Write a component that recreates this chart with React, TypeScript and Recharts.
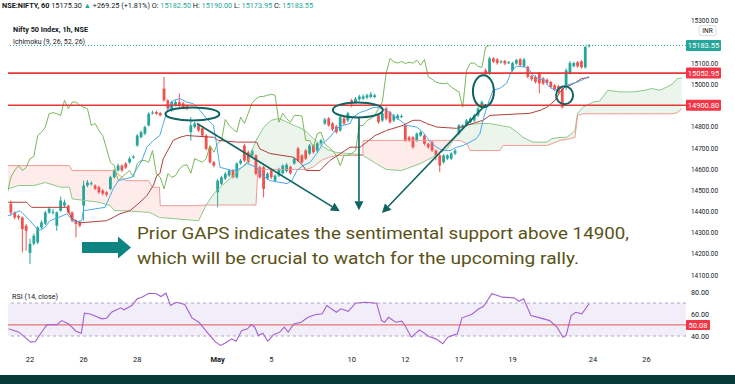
import React from 'react';
import { ComposedChart, Bar, Line, Area, XAxis, YAxis, ReferenceLine, ReferenceDot, ReferenceArea } from 'recharts';

// hourly candles, bar index -5 .. 146 (0 = first bar of 22 Apr)
const FIRST_BAR = -5;
const OPENS = [
  14436, 14395, 14379, 14371, 14332,
  14204, 14247, 14253, 14324, 14342, 14394, 14395,
  14332, 14403, 14427, 14427, 14395, 14356, 14348,
  14427, 14522, 14531, 14522, 14514, 14498, 14490,
  14506, 14561, 14593, 14616, 14626, 14631, 14654,
  14711, 14750, 14767, 14806, 14864, 14869, 14864,
  14980, 14924, 14877, 14901, 14916, 14910, 14896,
  14774, 14798, 14806, 14792, 14758, 14703, 14632,
  14490, 14530, 14555, 14569, 14593, 14561, 14626,
  14711, 14679, 14664, 14664, 14608, 14608, 14555,
  14593, 14545, 14569, 14580, 14590, 14610, 14626,
  14697, 14664, 14687, 14673, 14711, 14687, 14721,
  14815, 14839, 14815, 14801, 14782, 14839, 14829,
  14924, 14916, 14929, 14932, 14937, 14940, 14940,
  14853, 14829, 14886, 14869, 14829, 14838, 14848,
  14806, 14750, 14750, 14735, 14758, 14758, 14719,
  14727, 14687, 14664, 14632, 14649, 14649, 14673,
  14767, 14792, 14806, 14821, 14829, 14853, 14901,
  15066, 15051, 15122, 15118, 15106, 15110, 15103,
  15066, 15098, 15118, 15085, 15082, 15038, 15035,
  15052, 15028, 15022, 15011, 14995, 14991, 14980,
  14995, 15052, 15085, 15104, 15109, 15080, 15182.5,
];
const HIGHS = [
  14451, 14400, 14385, 14376, 14340,
  14271, 14295, 14330, 14358, 14402, 14422, 14412,
  14400, 14470, 14455, 14432, 14400, 14362, 14356,
  14545, 14548, 14542, 14528, 14520, 14505, 14495,
  14568, 14600, 14625, 14622, 14632, 14658, 14665,
  14765, 14782, 14805, 14868, 14875, 14876, 14870,
  15035, 14930, 14922, 14925, 14957, 14918, 14902,
  14845, 14822, 14812, 14798, 14764, 14710, 14638,
  14552, 14568, 14585, 14600, 14598, 14632, 14648,
  14720, 14688, 14695, 14670, 14615, 14615, 14585,
  14598, 14575, 14606, 14622, 14628, 14616, 14656,
  14705, 14670, 14695, 14718, 14717, 14728, 14742,
  14842, 14846, 14822, 14808, 14852, 14846, 14870,
  14932, 14940, 14950, 14952, 14956, 14964, 14955,
  14860, 14870, 14895, 14875, 14860, 14860, 14858,
  14812, 14756, 14756, 14773, 14782, 14765, 14725,
  14733, 14693, 14670, 14670, 14670, 14680, 14694,
  14812, 14812, 14836, 14845, 14860, 14892, 14924,
  15075, 15130, 15128, 15124, 15115, 15116, 15110,
  15106, 15120, 15125, 15124, 15088, 15044, 15042,
  15058, 15034, 15028, 15017, 15002, 14997, 14986,
  15075, 15110, 15106, 15110, 15114, 15182, 15190,
];
const LOWS = [
  14379, 14362, 14360, 14206, 14214,
  14152, 14240, 14245, 14318, 14335, 14388, 14385,
  14308, 14398, 14420, 14388, 14348, 14277, 14325,
  14356, 14515, 14522, 14500, 14482, 14476, 14470,
  14500, 14555, 14588, 14585, 14600, 14625, 14648,
  14705, 14745, 14760, 14800, 14858, 14855, 14848,
  14918, 14878, 14870, 14895, 14890, 14885, 14878,
  14735, 14792, 14775, 14750, 14688, 14625, 14608,
  14419, 14524, 14548, 14562, 14555, 14555, 14620,
  14632, 14625, 14658, 14570, 14555, 14466, 14548,
  14552, 14538, 14562, 14574, 14584, 14574, 14620,
  14632, 14625, 14642, 14666, 14672, 14680, 14715,
  14808, 14800, 14780, 14766, 14776, 14808, 14822,
  14892, 14910, 14922, 14926, 14930, 14934, 14934,
  14814, 14822, 14830, 14814, 14822, 14832, 14840,
  14728, 14728, 14695, 14728, 14752, 14712, 14696,
  14680, 14640, 14585, 14625, 14642, 14642, 14666,
  14760, 14786, 14800, 14815, 14822, 14846, 14895,
  15044, 15044, 15100, 15092, 15098, 15090, 15096,
  15060, 15092, 15084, 15080, 15028, 15016, 15004,
  14957, 14996, 14998, 14980, 14968, 14956, 14885,
  14972, 15046, 15080, 15078, 15074, 15074, 15173.95,
];
const CLOSES = [
  14394, 14371, 14370, 14316, 14308,
  14247, 14285, 14324, 14348, 14395, 14413, 14398,
  14395, 14451, 14443, 14395, 14356, 14340, 14332,
  14522, 14537, 14533, 14507, 14490, 14484, 14479,
  14561, 14593, 14616, 14593, 14607, 14649, 14659,
  14758, 14774, 14798, 14861, 14866, 14861, 14853,
  14924, 14885, 14916, 14916, 14901, 14892, 14885,
  14806, 14815, 14782, 14758, 14695, 14632, 14616,
  14545, 14561, 14578, 14593, 14561, 14626, 14640,
  14640, 14632, 14687, 14577, 14561, 14506, 14578,
  14561, 14569, 14600, 14616, 14620, 14580, 14649,
  14640, 14632, 14649, 14711, 14679, 14721, 14735,
  14834, 14806, 14787, 14774, 14845, 14815, 14863,
  14911, 14932, 14942, 14943, 14948, 14953, 14948,
  14821, 14863, 14838, 14821, 14853, 14853, 14850,
  14735, 14735, 14703, 14767, 14774, 14719, 14703,
  14687, 14664, 14616, 14664, 14664, 14673, 14687,
  14806, 14806, 14829, 14838, 14853, 14885, 14916,
  15052, 15122, 15106, 15100, 15108, 15098, 15104,
  15100, 15114, 15090, 15117, 15035, 15024, 15011,
  15005, 15003, 15006, 14987, 14975, 14964, 14892,
  15066, 15100, 15100, 15085, 15080, 15176, 15183.55,
];

// Ichimoku conversion / base lines, read as vertices [bar, price]
const TENKAN: [number, number][] = [
  [-5.75, 14379], [-2.6, 14403], [0, 14356], [2.2, 14308], [3.9, 14324], [5.2, 14356], [7.4, 14371], [9.6, 14388],
  [11.7, 14348], [13.5, 14356], [13.9, 14403], [19.6, 14419], [21.7, 14506], [23.1, 14545], [26.6, 14561], [27.9, 14601],
  [29.2, 14640], [30.5, 14703], [32.2, 14735], [33.9, 14758], [34.8, 14814], [35.7, 14869], [37.4, 14924], [39.2, 14932],
  [40.9, 14916], [42.6, 14909], [44.4, 14877], [46.1, 14838], [47.9, 14806], [48.7, 14719], [49.6, 14608], [52.7, 14593],
  [54.8, 14602], [56.7, 14626], [59.3, 14607], [60, 14578], [62.7, 14545], [67.1, 14531], [68.4, 14545], [69.7, 14593],
  [71.3, 14616], [73.1, 14631], [74.9, 14673], [76.5, 14721], [78.3, 14750], [80.1, 14792], [81.7, 14806], [83.6, 14815],
  [84.3, 14844], [86.2, 14867], [87.9, 14877], [89.6, 14891], [90.9, 14891], [93.1, 14877], [94.8, 14853], [96.6, 14830],
  [98.4, 14806], [101, 14798], [102.6, 14774], [103.6, 14750], [104.9, 14721], [106.2, 14703], [107.8, 14687], [109.7, 14687],
  [111.4, 14703], [113.1, 14711], [114.9, 14727], [116.6, 14744], [117.5, 14768], [118.3, 14830], [119.3, 14893], [120.9, 14972],
  [122.7, 14981], [124.5, 15005], [125.8, 15066], [127.1, 15085], [129.2, 15082], [130.5, 15066], [131.3, 15043], [132.6, 15028],
  [134.5, 15019], [135.2, 14995], [136.2, 14981], [137.1, 14972], [138.4, 14981], [140.2, 14995], [141.8, 15005], [143.1, 15011],
  [146, 15037],
];
const KIJUN: [number, number][] = [
  [-5.75, 14443], [-0.9, 14443], [0.4, 14419], [9.6, 14419], [10.9, 14365], [13.1, 14346], [20, 14356], [21.7, 14371],
  [23.5, 14389], [26.1, 14403], [28.7, 14443], [30.5, 14474], [32.2, 14522], [33.1, 14569], [33.9, 14578], [34.8, 14649],
  [37.4, 14735], [39.2, 14750], [40.9, 14758], [47.9, 14750], [49.2, 14735], [54, 14727], [59.2, 14727], [60, 14695],
  [62.7, 14673], [68.7, 14656], [70.5, 14632], [72.2, 14593], [75.7, 14593], [78.3, 14640], [83.6, 14703], [86.2, 14703],
  [90.1, 14758], [93.1, 14782], [97.4, 14806], [100, 14830], [101.8, 14830], [103.6, 14815], [106.2, 14798], [111.4, 14792],
  [114, 14806], [118.3, 14830], [120.1, 14853], [130.5, 14863], [133.2, 14877], [134.9, 14891], [136.2, 14910], [137.1, 14924],
  [138.4, 14964], [139.7, 14987], [141, 14995], [142.7, 15011], [144, 15027], [146, 15032],
];

// cloud (leading spans, already displaced 26 bars forward)
const CLOUD_X = [
  -5.75, -3, 1, 4, 8, 10.3, 11, 18, 21, 22, 25, 31, 32, 33.8, 34, 44, 46, 48, 51, 54, 57, 59, 59.5, 61, 63, 65, 67, 69, 71,
  72.3, 74, 76, 78, 80, 83, 86.9, 87, 90, 93, 97, 102, 106, 109, 110.5, 112.3, 114, 115, 117.5, 120, 122.7, 123.5, 125.3,
  127.2, 128.7, 131.3, 135, 136.3, 138.4, 140.2, 141.5, 142.3, 143, 144.4, 147, 148.8, 150.9, 154, 157.4, 160.6, 162.4,
  164.5, 166.3, 167.9, 169, 170.2,
];
const SPAN_A = [
  14506, 14522, 14522, 14536, 14514, 14514, 14459, 14443, 14427, 14403, 14403, 14395, 14389, 14371, 14371, 14356, 14430,
  14484, 14536, 14583, 14640, 14735, 14750, 14796, 14830, 14839, 14822, 14806, 14790, 14774, 14744, 14711, 14690, 14678,
  14673, 14668, 14664, 14630, 14598, 14593, 14626, 14664, 14697, 14735, 14774, 14806, 14810, 14815, 14815, 14806, 14803,
  14798, 14774, 14750, 14727, 14727, 14744, 14749, 14750, 14768, 14782, 14863, 14892, 14916, 14921, 14972, 14964, 14964,
  14972, 14980, 14972, 14987, 15003, 15027, 15030,
];
const SPAN_B = [
  14616, 14616, 14616, 14616, 14616, 14616, 14593, 14593, 14593, 14593, 14545, 14545, 14514, 14514, 14427, 14427, 14430,
  14430, 14430, 14430, 14430, 14430, 14598, 14598, 14598, 14598, 14598, 14598, 14598, 14598, 14610, 14640, 14655, 14664,
  14664, 14664, 14735, 14735, 14735, 14735, 14735, 14735, 14735, 14735, 14735, 14720, 14687, 14687, 14687, 14687, 14711,
  14711, 14711, 14711, 14711, 14711, 14720, 14735, 14740, 14745, 14750, 14853, 14861, 14861, 14861, 14861, 14861, 14861,
  14861, 14861, 14861, 14861, 14861, 14866, 14885,
];

// RSI(14) vertices [bar, value]
const RSI_POINTS: [number, number][] = [
  [-5.6, 46.5], [-2.9, 43.5], [0.2, 34.4], [1.4, 35], [3.3, 45], [4.5, 50.4], [7, 50.2], [8.3, 54], [10.1, 51], [12, 44.4],
  [13.4, 42.5], [14.2, 60.7], [15.7, 60], [18.8, 55.6], [20, 56.2], [21.3, 61.6], [23.7, 65.6], [24.5, 63.8], [26.6, 67.7],
  [28, 73.8], [29.2, 75.3], [31.1, 78.9], [33, 78.4], [34.2, 75.9], [35.5, 78.9], [36.7, 67.7], [38.2, 70.7], [40.4, 68.6],
  [42.3, 56.5], [44.1, 52.5], [46.6, 42], [48.5, 34.4], [49.7, 31.4], [50.9, 33.5], [52.7, 37.4], [53.8, 35.3], [55.3, 45],
  [56.8, 46.5], [57.7, 50.4], [58.7, 48], [59.6, 40.5], [60.8, 42.5], [62.1, 35.3], [63.7, 41.4], [65.2, 43.5], [66.4, 48],
  [67.4, 43.5], [68.9, 51], [70.8, 52.5], [72.6, 57], [74.4, 59.3], [76.3, 60.2], [77.5, 67.7], [80, 61.6], [81.2, 64.7],
  [83.1, 62.5], [85, 69.8], [87.5, 70.7], [90.5, 69.8], [91.8, 54], [92.6, 52.5], [93.6, 57], [95.5, 52.5], [97.1, 53.5],
  [97.9, 49.5], [99.6, 38.9], [101.7, 45.6], [104.2, 39.5], [106, 37.4], [107.8, 32.9], [109.1, 38.9], [111.6, 42],
  [112.8, 56.5], [115.3, 59.5], [117.2, 64.7], [118.4, 66.8], [120.6, 78.4], [122.1, 76.8], [123.3, 75.3], [126.4, 74.7],
  [127.7, 71.6], [128.9, 73.8], [130.8, 58.6], [133.2, 56.5], [135.7, 54], [137.6, 48], [139.2, 38.9], [140, 40.5],
  [141.3, 58.6], [142.5, 61.6], [144.1, 60.2], [146, 69.3],
];

// 14900 and 15200 sit under the price tags in the original, so they are not drawn
const PRICE_TICKS = [14100, 14200, 14300, 14400, 14500, 14600, 14700, 14800, 15000, 15100, 15300];
const RSI_TICKS = [40, 60, 80];
const DATE_TICKS = [0, 14, 28, 49, 63, 84, 98, 112, 126, 147, 161];
const DATE_LABELS = ['22', '26', '28', 'May', '5', '10', '12', '17', '19', '24', '26'];
const LAST_PRICE = 15183.55;
const LEVELS = [15052.95, 14900.8];
const RSI_LEVEL = 50.08;

// annotation anchors in data space [bar, price]
const CIRCLES: { at: [number, number]; rx: number; ry: number }[] = [
  { at: [42.4, 14860], rx: 27, ry: 6.5 },
  { at: [85.6, 14879], rx: 25, ry: 7.5 },
  { at: [118.4, 14967], rx: 10.5, ry: 16 },
  { at: [139.6, 14948], rx: 8.5, ry: 9 },
];
const POINTERS: [number, number][][] = [
  [[43.6, 14815], [80.9, 14400]],
  [[85.9, 14844], [85.9, 14405]],
  [[119.1, 14905], [91.9, 14392]],
];

const X_DOMAIN: [number, number] = [-5.75, 171.3];
const PRICE_DOMAIN: [number, number] = [14057, 15398];
const RSI_DOMAIN: [number, number] = [30, 87.27];
const UP = '#26a69a';
const DOWN = '#ef5350';
const TEAL = '#0f6462';
const FONT = 'Roboto, "Liberation Sans", sans-serif';

const candles = OPENS.map((o, k) => ({
  i: FIRST_BAR + k, o, h: HIGHS[k], l: LOWS[k], c: CLOSES[k], range: [LOWS[k], HIGHS[k]],
}));
const chikou = CLOSES.map((c, k) => ({ i: FIRST_BAR + k - 26, v: c })).filter(d => d.i >= X_DOMAIN[0] - 1);
const tenkan = TENKAN.map(([i, v]) => ({ i, v }));
const kijun = KIJUN.map(([i, v]) => ({ i, v }));
const cloud = CLOUD_X.map((i, k) => {
  const a = SPAN_A[k];
  const b = SPAN_B[k];
  return { i, a, b, bull: a >= b ? [b, a] : [a, a], bear: b > a ? [a, b] : [a, a] };
});
const rsi = RSI_POINTS.map(([i, v]) => ({ i, v }));

const Candle = (props: any) => {
  const { x, y, width, height } = props;
  const d = props.payload ?? props;
  const top = height < 0 ? y + height : y;
  const span = Math.abs(height);
  const k = d.h > d.l ? span / (d.h - d.l) : 0;
  const bodyTop = top + (d.h - Math.max(d.o, d.c)) * k;
  const bodyH = Math.max(1, Math.abs(d.c - d.o) * k);
  const color = d.c >= d.o ? UP : DOWN;
  const cx = x + width / 2;
  return (
    <g>
      <line x1={cx} x2={cx} y1={top} y2={top + span} stroke={color} strokeWidth={1} />
      <rect x={cx - 1.4} y={bodyTop} width={2.8} height={bodyH} fill={color} />
    </g>
  );
};

const PriceTick = ({ x, y, payload }: any) => (
  <text x={x} y={y + 2.7} fontSize={7.5} fill="#131722" fontFamily={FONT} textLength={27} lengthAdjust="spacingAndGlyphs">
    {payload.value.toFixed(2)}
  </text>
);

const DateTick = ({ x, y, payload }: any) => {
  const label = DATE_LABELS[DATE_TICKS.indexOf(payload.value)];
  return (
    <text x={x} y={y + 15} textAnchor="middle" fontSize={7.5} fill="#131722" fontFamily={FONT}
      fontWeight={label === 'May' ? 700 : 400}>
      {label}
    </text>
  );
};

const Tag = ({ viewBox, text, bg, w, h }: any) => {
  const { x, y, width } = viewBox;
  const left = x + width;
  return (
    <g>
      <rect x={left} y={y - h / 2} width={w} height={h} fill={bg} rx={1} />
      <text x={left + w / 2} y={y + 2.8} textAnchor="middle" fontSize={7.5} fill="#fff" fontFamily={FONT}>{text}</text>
    </g>
  );
};

const Pointer = (p: any) => {
  const { x1, y1, x2, y2 } = p;
  const ang = Math.atan2(y2 - y1, x2 - x1);
  const len = 9;
  const half = 4.5;
  const bx = x2 - len * Math.cos(ang);
  const by = y2 - len * Math.sin(ang);
  const px = -Math.sin(ang) * half;
  const py = Math.cos(ang) * half;
  return (
    <g>
      <line x1={x1} y1={y1} x2={bx} y2={by} stroke={TEAL} strokeWidth={1.6} />
      <polygon points={`${x2},${y2} ${bx + px},${by + py} ${bx - px},${by - py}`} fill={TEAL} />
    </g>
  );
};

const App: React.FC = () => {
  return (
    <div style={{ position: 'absolute', left: 0, top: 0, width: 735, height: 384, background: '#fff', overflow: 'hidden' }}>
      <div style={{ position: 'absolute', left: 0, top: 0 }}>
        <ComposedChart width={735} height={284} data={candles} margin={{ top: 0, right: 0, bottom: 0, left: 8 }}>
          <XAxis dataKey="i" type="number" domain={X_DOMAIN} allowDataOverflow hide />
          <YAxis orientation="right" width={49} type="number" domain={PRICE_DOMAIN} allowDataOverflow ticks={PRICE_TICKS}
            interval={0} tickLine={false} axisLine={false} tickSize={0} tickMargin={5} tick={<PriceTick />} />
          <Area data={cloud} dataKey="bull" type="linear" stroke="none" fill="#43a047" fillOpacity={0.1} isAnimationActive={false} />
          <Area data={cloud} dataKey="bear" type="linear" stroke="none" fill="#f44336" fillOpacity={0.1} isAnimationActive={false} />
          <Line data={cloud} dataKey="a" type="linear" stroke="#8cc98a" strokeWidth={1} dot={false} isAnimationActive={false} />
          <Line data={cloud} dataKey="b" type="linear" stroke="#f19a95" strokeWidth={1} dot={false} isAnimationActive={false} />
          <Line data={chikou} dataKey="v" type="linear" stroke="#79b85a" strokeWidth={1} dot={false} isAnimationActive={false} />
          <Line data={kijun} dataKey="v" type="linear" stroke="#b0403c" strokeWidth={1} dot={false} isAnimationActive={false} />
          <Line data={tenkan} dataKey="v" type="linear" stroke="#4aa8f0" strokeWidth={1} dot={false} isAnimationActive={false} />
          <Bar dataKey="range" barSize={3} shape={<Candle />} isAnimationActive={false} />
          <ReferenceLine y={LAST_PRICE} stroke={UP} strokeDasharray="1 2" strokeWidth={1}
            label={<Tag text={LAST_PRICE.toFixed(2)} bg={UP} w={35} h={11} />} />
          {LEVELS.map(v => (
            <ReferenceLine key={v} y={v} stroke="#e53935" strokeWidth={1.6}
              label={<Tag text={v.toFixed(2)} bg="#f23645" w={35} h={11} />} />
          ))}
          {CIRCLES.map((c, k) => (
            <ReferenceDot key={k} x={c.at[0]} y={c.at[1]} r={1}
              shape={(p: any) => <ellipse cx={p.cx} cy={p.cy} rx={c.rx} ry={c.ry} fill="none" stroke={TEAL} strokeWidth={2} />} />
          ))}
          {POINTERS.map((seg, k) => (
            <ReferenceLine key={`p${k}`} segment={seg.map(([x, y]) => ({ x, y }))} shape={<Pointer />} />
          ))}
        </ComposedChart>
      </div>
      <div style={{ position: 'absolute', left: 0, top: 284 }}>
        <ComposedChart width={735} height={83} data={rsi} margin={{ top: 0, right: 0, bottom: 0, left: 8 }}>
          <XAxis dataKey="i" type="number" domain={X_DOMAIN} allowDataOverflow ticks={DATE_TICKS} interval={0}
            tickLine={false} axisLine={false} tickSize={0} tickMargin={0} height={20} tick={<DateTick />} />
          <YAxis orientation="right" width={49} type="number" domain={RSI_DOMAIN} allowDataOverflow ticks={RSI_TICKS}
            interval={0} tickLine={false} axisLine={false} tickSize={0} tickMargin={5}
            tick={({ x, y, payload }: any) => (
              <text x={x} y={y + 2.7} fontSize={7.5} fill="#131722" fontFamily={FONT} textLength={18} lengthAdjust="spacingAndGlyphs">
                {payload.value.toFixed(2)}
              </text>
            )} />
          <ReferenceArea y1={40} y2={70} fill="#7e57c2" fillOpacity={0.1} stroke="none" />
          <ReferenceLine y={70} stroke="#b2a6c4" strokeDasharray="3 3" />
          <ReferenceLine y={40} stroke="#b2a6c4" strokeDasharray="3 3" />
          <ReferenceLine y={RSI_LEVEL} stroke="#e57373" strokeWidth={1.2}
            label={<Tag text={RSI_LEVEL.toFixed(2)} bg="#f23645" w={24} h={10} />} />
          <Line dataKey="v" type="linear" stroke="#a35fd4" strokeWidth={1.1} dot={false} isAnimationActive={false} />
        </ComposedChart>
      </div>
      <svg width={735} height={384} style={{ position: 'absolute', left: 0, top: 0, pointerEvents: 'none' }}>
        <text x={2} y={8} fontSize={7.2} fontFamily={FONT} fill="#131722" textLength={311} lengthAdjust="spacingAndGlyphs">
          <tspan fontWeight={700}>NSE:NIFTY, 60</tspan>
          <tspan> 15175.30 </tspan>
          <tspan fill={UP}>▲</tspan>
          <tspan> +269.25 (+1.81%) O: </tspan>
          <tspan fill={UP}>15182.50</tspan>
          <tspan> H: </tspan>
          <tspan fill={UP}>15190.00</tspan>
          <tspan> L: </tspan>
          <tspan fill={UP}>15173.95</tspan>
          <tspan> C: </tspan>
          <tspan fill={UP}>15183.55</tspan>
        </text>
        <text x={13} y={32} fontSize={7.5} fontWeight={700} fontFamily={FONT} fill="#131722" textLength={75} lengthAdjust="spacingAndGlyphs">
          Nifty 50 Index, 1h, NSE
        </text>
        <text x={13} y={44} fontSize={7.5} fontFamily={FONT} fill="#131722" textLength={72} lengthAdjust="spacingAndGlyphs">
          Ichimoku (9, 26, 52, 26)
        </text>
        <rect x={699} y={25.5} width={17} height={10} rx={2} fill="#fff" stroke="#d1d4dc" strokeWidth={0.8} />
        <text x={707.5} y={33} textAnchor="middle" fontSize={6.5} fontFamily={FONT} fill="#131722">INR</text>
        <text x={12} y={299} fontSize={7} fontFamily={FONT} fill="#131722" textLength={46} lengthAdjust="spacingAndGlyphs">
          RSI (14, close)
        </text>
        <polygon points="82,242 118,242 118,236.5 131,247.5 118,258.5 118,253 82,253" fill="#0c8582" />
        <text x={137} y={238.5} fontSize={17} fontFamily={FONT} fill="#5a5216" textLength={492} lengthAdjust="spacingAndGlyphs">
          Prior GAPS indicates the sentimental support above 14900,
        </text>
        <text x={137} y={264} fontSize={17} fontFamily={FONT} fill="#5a5216" textLength={442} lengthAdjust="spacingAndGlyphs">
          which will be crucial to watch for the upcoming rally.
        </text>
      </svg>
      <div style={{ position: 'absolute', left: 0, top: 375, width: 735, height: 9, background: '#073b3a' }} />
    </div>
  );
};

export default App;
